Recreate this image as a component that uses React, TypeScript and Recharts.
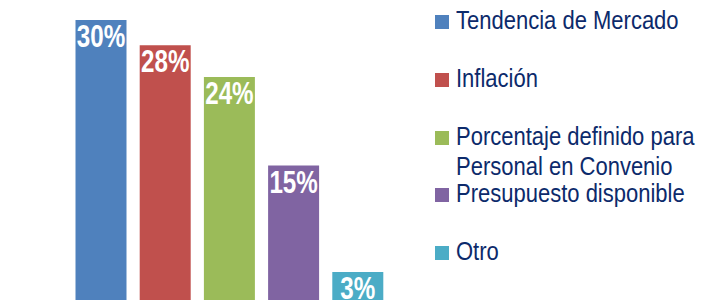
import { BarChart, Bar, XAxis, YAxis, Cell, LabelList } from 'recharts';

const categories = ['Tendencia de Mercado', 'Inflación', 'Porcentaje definido para Personal en Convenio', 'Presupuesto disponible', 'Otro'];
const values = [30, 27.3, 23.9, 14.4, 3.0];
const labels = ['30%', '28%', '24%', '15%', '3%'];
const COLORS = ['#4F81BD', '#C0504D', '#9BBB59', '#8064A2', '#4BACC6'];

const data = categories.map((name, i) => ({ name, value: values[i], label: labels[i] }));

// no Arial Narrow here, so squeeze Liberation Sans horizontally
const FONT = '"Liberation Sans", Arial, sans-serif';

function LegendBox() {
  const lines: Record<number, string[]> = { 2: ['Porcentaje definido para', 'Personal en Convenio'] };
  return (
    <div style={{ position: 'absolute', left: 435, top: 5, fontFamily: FONT, fontSize: 25, color: '#0c2a6b' }}>
      {categories.map((c, i) => (
        <div key={c} style={{ height: 57.75, display: 'flex', alignItems: 'flex-start' }}>
          <div style={{ width: 14, height: 14, background: COLORS[i], marginTop: 10, marginRight: 7, flexShrink: 0 }} />
          <div style={{ lineHeight: '30px', whiteSpace: 'nowrap', transform: 'scaleX(0.88)', transformOrigin: 'left top' }}>
            {(lines[i] || [c]).map((l) => (
              <div key={l}>{l}</div>
            ))}
          </div>
        </div>
      ))}
    </div>
  );
}

function BarLabel(props: any) {
  const { x, y, width, value } = props;
  const cx = x + width / 2;
  return (
    <text
      transform={`translate(${cx},${y + 27}) scale(0.78,1)`}
      textAnchor="middle"
      fill="#fff"
      style={{ fontFamily: FONT, fontSize: 31, fontWeight: 'bold' }}
    >
      {value}
    </text>
  );
}

export default function App() {
  return (
    <div style={{ position: 'absolute', left: 0, top: 0, width: 704, height: 300, background: '#fff', overflow: 'hidden' }}>
      <BarChart width={704} height={300} data={data} margin={{ top: 20, right: 314.5, left: 68.5, bottom: 0 }}>
        <XAxis dataKey="name" hide />
        <YAxis hide domain={[0, 30]} />
        <Bar dataKey="value" barSize={51} isAnimationActive={false}>
          {data.map((d, i) => (
            <Cell key={d.name} fill={COLORS[i]} />
          ))}
          <LabelList dataKey="label" content={<BarLabel />} />
        </Bar>
      </BarChart>
      <LegendBox />
    </div>
  );
}
